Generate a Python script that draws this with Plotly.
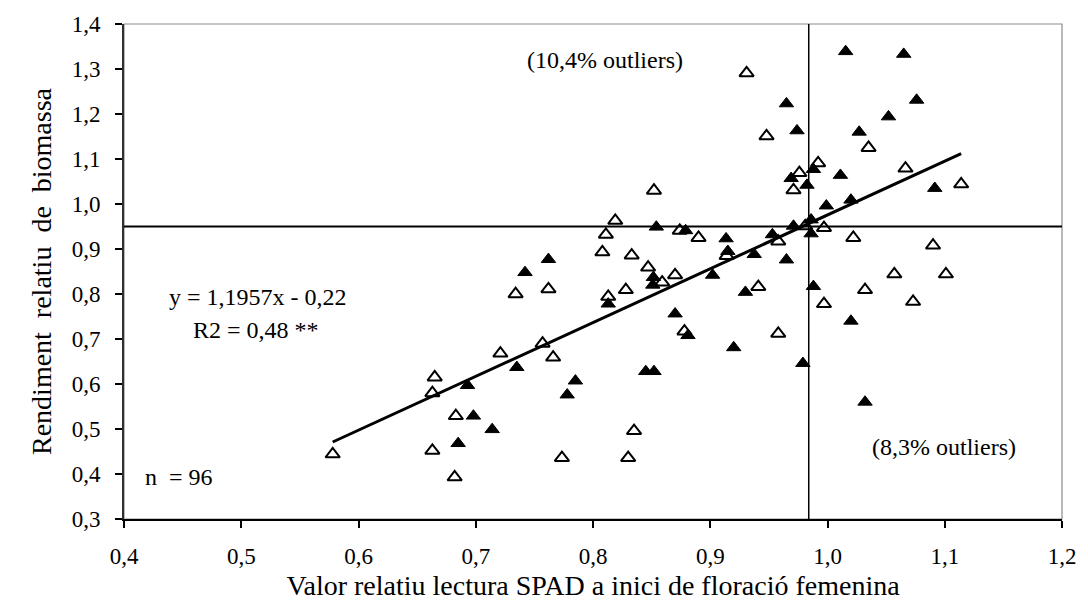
import plotly.graph_objects as go

# Open triangles (group 1)
open_x = [0.578, 0.665, 0.663, 0.683, 0.663, 0.682, 0.721, 0.757, 0.766, 0.734,
          0.762, 0.7735, 0.835, 0.830, 0.878, 0.958, 0.997, 0.852, 0.819, 0.874,
          0.890, 0.811, 0.808, 0.833, 0.914, 0.958, 0.847, 0.859, 0.870, 0.828,
          0.813, 0.941, 0.931, 0.948, 1.035, 0.992, 0.976, 0.971, 1.0665, 1.114,
          0.981, 0.997, 1.022, 1.090, 1.057, 1.101, 1.032, 1.073]
open_y = [0.444, 0.615, 0.580, 0.529, 0.452, 0.393, 0.668, 0.690, 0.659, 0.800,
          0.811, 0.436, 0.496, 0.436, 0.717, 0.712, 0.778, 1.030, 0.963, 0.941,
          0.925, 0.932, 0.893, 0.886, 0.885, 0.917, 0.859, 0.826, 0.842, 0.809,
          0.794, 0.816, 1.291, 1.151, 1.125, 1.091, 1.069, 1.031, 1.079, 1.044,
          0.951, 0.947, 0.925, 0.908, 0.844, 0.844, 0.809, 0.783]

# Filled triangles (group 2)
fill_x = [0.693, 0.698, 0.685, 0.735, 0.785, 0.778, 0.714, 0.920, 0.979, 0.845,
          0.852, 1.032, 0.813, 0.870, 0.881, 1.020, 0.742, 0.762, 0.854, 0.879,
          0.9135, 0.915, 0.953, 0.9375, 0.965, 0.8515, 0.851, 0.902, 0.930, 1.0155,
          1.065, 1.076, 1.052, 0.965, 0.974, 1.027, 0.988, 0.969, 0.9825, 1.011,
          1.0915, 0.999, 1.020, 0.971, 0.986, 0.986, 0.988]
fill_y = [0.597, 0.529, 0.468, 0.637, 0.607, 0.576, 0.499, 0.681, 0.646, 0.628,
          0.628, 0.560, 0.778, 0.756, 0.708, 0.740, 0.848, 0.877, 0.949, 0.941,
          0.923, 0.895, 0.932, 0.888, 0.876, 0.837, 0.820, 0.842, 0.804, 1.339,
          1.333, 1.231, 1.194, 1.223, 1.163, 1.160, 1.077, 1.057, 1.042, 1.064,
          1.035, 0.996, 1.009, 0.951, 0.965, 0.934, 0.817]

slope = 1.1957
intercept = -0.22
x_threshold = 0.984
y_threshold = 0.95
x_range = [0.4, 1.2]
y_range = [0.3, 1.4]
x_ticks = [0.4, 0.5, 0.6, 0.7, 0.8, 0.9, 1.0, 1.1, 1.2]
y_ticks = [0.3, 0.4, 0.5, 0.6, 0.7, 0.8, 0.9, 1.0, 1.1, 1.2, 1.3, 1.4]

FONT = "Liberation Serif"

fig = go.Figure()

# threshold lines
fig.add_trace(go.Scatter(x=x_range, y=[y_threshold, y_threshold], mode="lines",
                         line=dict(color="black", width=2), hoverinfo="skip", showlegend=False))
fig.add_trace(go.Scatter(x=[x_threshold, x_threshold], y=y_range, mode="lines",
                         line=dict(color="black", width=1.5), hoverinfo="skip", showlegend=False))

fig.add_trace(go.Scatter(x=open_x, y=open_y, mode="markers",
                         marker=dict(symbol="triangle-up-open", size=12.5, color="black",
                                     line=dict(width=2, color="black")),
                         showlegend=False))
fig.add_trace(go.Scatter(x=fill_x, y=fill_y, mode="markers",
                         marker=dict(symbol="triangle-up", size=12.5, color="black",
                                     line=dict(width=1, color="black")),
                         showlegend=False))

all_x = open_x + fill_x
xmin, xmax = min(all_x), max(all_x)
fig.add_trace(go.Scatter(x=[xmin, xmax], y=[slope * xmin + intercept, slope * xmax + intercept],
                         mode="lines", line=dict(color="black", width=3), showlegend=False))

# plot-area border (grey top/right)
fig.add_shape(type="rect", xref="paper", yref="paper", x0=0, y0=0, x1=1, y1=1,
              line=dict(color="#8c8c8c", width=1.2), layer="below")

ann_font = dict(family=FONT, size=24, color="black")
fig.add_annotation(x=0.810, y=1.321, xref="x", yref="y", text="(10,4% outliers)",
                   showarrow=False, font=ann_font, xanchor="center")
fig.add_annotation(x=1.0997, y=0.459, xref="x", yref="y", text="(8,3% outliers)",
                   showarrow=False, font=ann_font, xanchor="center")
fig.add_annotation(x=0.5145, y=0.7927, xref="x", yref="y", text="y = 1,1957x - 0,22",
                   showarrow=False, font=ann_font, xanchor="center")
fig.add_annotation(x=0.513, y=0.7195, xref="x", yref="y", text="R2 = 0,48 **",
                   showarrow=False, font=ann_font, xanchor="center")
fig.add_annotation(x=0.4465, y=0.393, xref="x", yref="y", text="n  = 96",
                   showarrow=False, font=ann_font, xanchor="center")

fig.update_layout(
    width=1088, height=615,
    margin=dict(l=124, r=17, t=19, b=96),
    paper_bgcolor="white", plot_bgcolor="white",
    separators=", ",
    font=dict(family=FONT, size=23, color="black"),
    xaxis=dict(range=x_range, tickvals=x_ticks, tickformat=".1f",
               showgrid=False, zeroline=False, showline=True, linecolor="black", linewidth=2,
               ticks="outside", ticklen=7, tickwidth=1.5, tickcolor="black",
               ticklabelstandoff=8,
               title=dict(text="Valor relatiu lectura SPAD a inici de floració femenina",
                          font=dict(family=FONT, size=28), standoff=8)),
    yaxis=dict(range=y_range, tickvals=y_ticks, tickformat=".1f",
               showgrid=False, zeroline=False, showline=True, linecolor="#303030", linewidth=2,
               ticks="outside", ticklen=7, tickwidth=1.5, tickcolor="black",
               ticklabelstandoff=10,
               title=dict(text="Rendiment  relatiu  de  biomassa",
                          font=dict(family=FONT, size=28), standoff=12)),
)

fig.write_html("out.html")
